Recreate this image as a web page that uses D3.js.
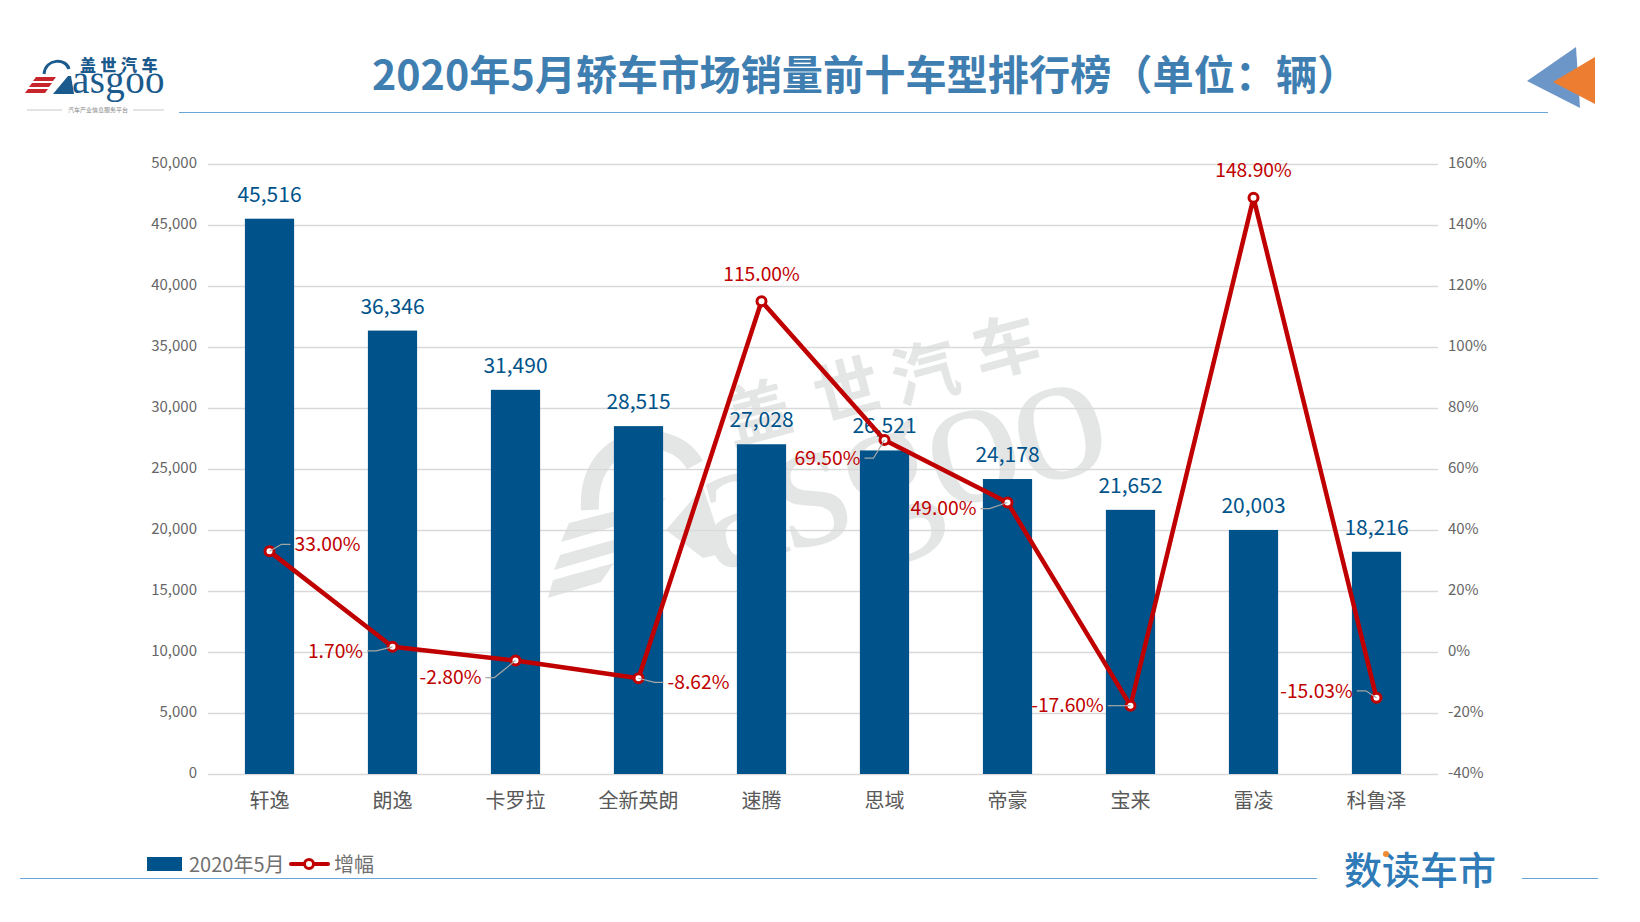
<!DOCTYPE html>
<html>
<head>
<meta charset="utf-8">
<script src="https://cdn.jsdelivr.net/npm/d3@7"></script>
<style>
  html, body { margin: 0; padding: 0; background: #fff; }
  svg { display: block; font-family: "Noto Sans CJK SC", "Noto Sans", sans-serif; }
</style>
</head>
<body>
<svg id="chart" width="1640" height="922"></svg>
<script>
const titleText = '2020年5月轿车市场销量前十车型排行榜（单位：辆）';
const categories = ['轩逸', '朗逸', '卡罗拉', '全新英朗', '速腾', '思域', '帝豪', '宝来', '雷凌', '科鲁泽'];
const sales = [45516, 36346, 31490, 28515, 27028, 26521, 24178, 21652, 20003, 18216];
const growth = [33, 1.7, -2.8, -8.62, 115, 69.5, 49, -17.6, 148.9, -15.03];
const salesTicks = [0, 5000, 10000, 15000, 20000, 25000, 30000, 35000, 40000, 45000, 50000];
const growthTicks = [-40, -20, 0, 20, 40, 60, 80, 100, 120, 140, 160];
const seriesNames = ['2020年5月', '增幅'];

// hand placed growth labels, [dx, dy] from the point, leader = has a callout line
const labelOffsets = [[58, -7], [-57, 4], [-65, 17], [60, 4], [0, -27], [-57, 18], [-64, 6], [-63, 0], [0, -28], [-60, -7]];
const hasLeader = [true, true, true, true, false, true, true, true, false, true];

const barColor = '#00538a', lineColor = '#c00000', gridColor = '#d9d9d9';
const ruleColor = '#6aa5d8', markColor = '#e4e6e6';

const margin = { top: 164, right: 202, bottom: 148, left: 208 };
const width = 1640 - margin.left - margin.right;
const height = 922 - margin.top - margin.bottom;

const svg = d3.select('#chart');

// header
svg.append('text').attr('x', 372).attr('y', 90)
    .attr('font-size', 41.2).attr('font-weight', 700).attr('fill', '#3f7eb0').text(titleText);
svg.append('line').attr('x1', 179).attr('x2', 1548).attr('y1', 112.5).attr('y2', 112.5)
    .attr('stroke', ruleColor).attr('stroke-width', 1);
svg.append('polygon').attr('points', '1527,81 1576,47 1580,108').attr('fill', '#6d96c8');
svg.append('polygon').attr('points', '1553,82 1595,57 1595,104').attr('fill', '#ed7d31');

// logo top left
const logo = svg.append('g');
logo.append('text').attr('x', 80).attr('y', 71).attr('font-size', 16).attr('font-weight', 900)
    .attr('letter-spacing', 4.5).attr('fill', '#1b5a8c').text('盖世汽车');
logo.append('text').attr('x', 72).attr('y', 93).attr('font-size', 39)
    .attr('font-family', '"Liberation Serif", serif').attr('letter-spacing', 0.4)
    .attr('fill', '#1b5a8c').text('asgoo');
logo.append('path').attr('d', 'M44,74 C46,58 66,58 69,69').attr('fill', 'none')
    .attr('stroke', '#1b5a8c').attr('stroke-width', 3);
logo.append('path').attr('d', 'M53,94 L68,76 L71,76 L74,94 Z').attr('fill', '#1b5a8c');
[[77, 36], [83, 32], [89, 28]].forEach(([y, s]) => {
    logo.append('polygon')
        .attr('points', `${s},${y} ${s + 20},${y} ${s + 17},${y + 4} ${s - 3},${y + 4}`)
        .attr('fill', '#c8242b');
});
logo.append('line').attr('x1', 27).attr('x2', 62).attr('y1', 110).attr('y2', 110).attr('stroke', '#c9c9c9');
logo.append('line').attr('x1', 133).attr('x2', 164).attr('y1', 110).attr('y2', 110).attr('stroke', '#c9c9c9');
logo.append('text').attr('x', 98).attr('y', 112).attr('text-anchor', 'middle').attr('font-size', 6)
    .attr('fill', '#888').text('汽车产业信息服务平台');

// watermark, sits behind the grid
const mark = svg.append('g').attr('fill', markColor);
[['盖', 758, 413], ['世', 847, 390], ['汽', 925, 373], ['车', 1006, 347]].forEach(([c, x, y]) => {
    mark.append('text').attr('transform', `translate(${x},${y}) rotate(-15)`)
        .attr('text-anchor', 'middle').attr('dy', '0.36em')
        .attr('font-size', 66).attr('font-weight', 700).text(c);
});
mark.append('text').attr('transform', 'translate(712,572) rotate(-15)')
    .attr('font-family', '"Liberation Serif", serif').attr('font-size', 190).attr('letter-spacing', -6).text('asgoo');
mark.append('path').attr('d', 'M590,510 C585,432 672,422 695,465').attr('fill', 'none')
    .attr('stroke', markColor).attr('stroke-width', 18);
mark.append('polygon').attr('points', '666,530 703,487 725,553 703,558');
mark.append('polygon').attr('points', '569,523 666,498 647,517 561,542');
mark.append('polygon').attr('points', '560,555 638,533 623,550 554,570');
mark.append('polygon').attr('points', '553,580 614,563 601,582 548,598');

// chart
const g = svg.append('g').attr('transform', `translate(${margin.left},${margin.top})`);

const x = d3.scaleBand().domain(categories).range([0, width]).paddingInner(0.6).paddingOuter(0.3);
const ySales = d3.scaleLinear().domain([0, 50000]).range([height, 0]);
const yGrowth = d3.scaleLinear().domain([-40, 160]).range([height, 0]);
const cx = d => x(d) + x.bandwidth() / 2;

const leftAxis = g.append('g')
    .call(d3.axisLeft(ySales).tickValues(salesTicks).tickFormat(d3.format(',')).tickSize(-width).tickPadding(11));
const rightAxis = g.append('g').attr('transform', `translate(${width},0)`)
    .call(d3.axisRight(yGrowth).tickValues(growthTicks).tickFormat(d => d + '%').tickSize(0).tickPadding(10));
const bottomAxis = g.append('g').attr('transform', `translate(0,${height})`)
    .call(d3.axisBottom(x).tickSize(0).tickPadding(20));

leftAxis.selectAll('.tick line').attr('stroke', gridColor).attr('stroke-width', 1.4);
[leftAxis, rightAxis, bottomAxis].forEach(a => a.select('.domain').remove());
[leftAxis, rightAxis].forEach(a => a.selectAll('.tick text')
    .attr('y', -1).attr('font-family', '"Noto Sans CJK SC"').attr('font-size', 15).attr('fill', '#666'));
bottomAxis.selectAll('.tick text')
    .attr('font-family', '"Noto Sans CJK SC"').attr('font-size', 20).attr('fill', '#595959');

g.selectAll('.bar').data(categories).enter().append('rect')
    .attr('class', 'bar')
    .attr('x', d => x(d))
    .attr('y', (d, i) => ySales(sales[i]))
    .attr('width', x.bandwidth())
    .attr('height', (d, i) => height - ySales(sales[i]))
    .attr('fill', barColor);

g.selectAll('.bar-label').data(categories).enter().append('text')
    .attr('class', 'bar-label')
    .attr('x', cx)
    .attr('y', (d, i) => ySales(sales[i]) - 17)
    .attr('text-anchor', 'middle')
    .attr('font-size', 21)
    .attr('fill', barColor)
    .text((d, i) => d3.format(',')(sales[i]));

const line = d3.line().x(d => cx(d)).y(d => yGrowth(growth[categories.indexOf(d)]));
g.append('path').datum(categories).attr('d', line)
    .attr('fill', 'none').attr('stroke', lineColor).attr('stroke-width', 4.5).attr('stroke-linejoin', 'round');

g.selectAll('.dot').data(categories).enter().append('circle')
    .attr('class', 'dot')
    .attr('cx', cx)
    .attr('cy', (d, i) => yGrowth(growth[i]))
    .attr('r', 4.5)
    .attr('fill', '#fff').attr('stroke', lineColor).attr('stroke-width', 3);

const labels = g.selectAll('.growth-label').data(categories).enter().append('text')
    .attr('class', 'growth-label')
    .attr('x', (d, i) => cx(d) + labelOffsets[i][0])
    .attr('y', (d, i) => yGrowth(growth[i]) + labelOffsets[i][1])
    .attr('dy', '0.35em')
    .attr('text-anchor', 'middle')
    .attr('font-size', 19.3)
    .attr('fill', lineColor)
    .text((d, i) => growth[i].toFixed(2) + '%');

// callout lines start at the edge of the label text
labels.each(function (d, i) {
    if (!hasLeader[i]) return;
    const box = this.getBBox();
    const px = cx(d), py = yGrowth(growth[i]);
    const side = labelOffsets[i][0] < 0 ? 1 : -1;
    const sx = side > 0 ? box.x + box.width + 4 : box.x - 4;
    const sy = py + labelOffsets[i][1];
    g.append('path')
        .attr('d', `M${sx},${sy} L${sx + side * 9},${sy} L${px},${py}`)
        .attr('fill', 'none').attr('stroke', '#a6a6a6').attr('stroke-width', 1.2);
});

// legend
const legend = svg.append('g');
legend.append('rect').attr('x', 147).attr('y', 857).attr('width', 35).attr('height', 14).attr('fill', barColor);
legend.append('text').attr('x', 189).attr('y', 872).attr('font-size', 20).attr('fill', '#707070').text(seriesNames[0]);
legend.append('line').attr('x1', 291).attr('x2', 328).attr('y1', 864).attr('y2', 864)
    .attr('stroke', lineColor).attr('stroke-width', 4).attr('stroke-linecap', 'round');
legend.append('circle').attr('cx', 309).attr('cy', 864).attr('r', 4.5)
    .attr('fill', '#fff').attr('stroke', lineColor).attr('stroke-width', 3);
legend.append('text').attr('x', 334).attr('y', 872).attr('font-size', 20).attr('fill', '#707070').text(seriesNames[1]);

// footer
svg.append('line').attr('x1', 20).attr('x2', 1317).attr('y1', 878.5).attr('y2', 878.5).attr('stroke', ruleColor);
svg.append('line').attr('x1', 1522).attr('x2', 1598).attr('y1', 878.5).attr('y2', 878.5).attr('stroke', ruleColor);
svg.append('text').attr('x', 1344).attr('y', 884).attr('font-size', 38).attr('font-weight', 500)
    .attr('fill', '#2e7bb8').text('数读车市');
svg.append('circle').attr('cx', 1386).attr('cy', 854).attr('r', 3).attr('fill', '#f28a2e');
</script>
</body>
</html>
